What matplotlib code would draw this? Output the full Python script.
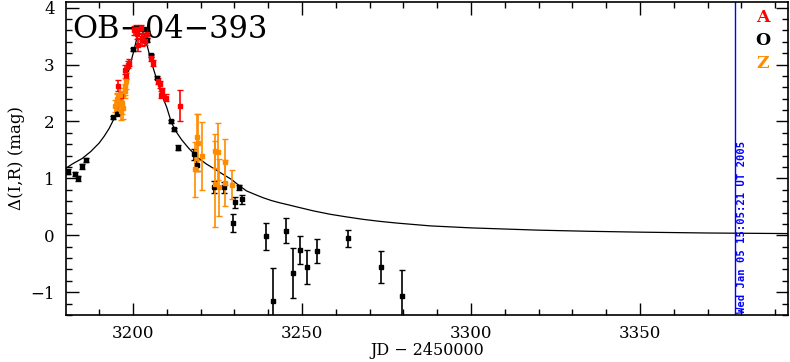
import matplotlib
matplotlib.use('Agg')
import matplotlib.pyplot as plt
from matplotlib.ticker import MultipleLocator

# A (red)
a_jd = [3195.6, 3196.4, 3197.6, 3198.1, 3198.6, 3198.9, 3200.4, 3200.8, 3201.1, 3201.6,
        3202.4, 3202.6, 3202.8, 3203.6, 3204.1, 3205.5, 3206.0, 3207.5, 3208.0, 3208.2,
        3208.5, 3209.8, 3213.9]
a_mag = [2.63, 2.44, 2.91, 2.80, 3.00, 3.03, 3.60, 3.63, 3.53, 3.35,
         3.64, 3.44, 3.47, 3.41, 3.53, 3.12, 3.03, 2.71, 2.65, 2.47,
         2.53, 2.42, 2.28]
a_err = [0.10, 0.08, 0.08, 0.06, 0.06, 0.06, 0.08, 0.06, 0.08, 0.12,
         0.05, 0.12, 0.06, 0.06, 0.06, 0.05, 0.05, 0.06, 0.06, 0.06,
         0.06, 0.06, 0.27]

# O (black)
o_jd = [3180.7, 3182.8, 3183.8, 3185.0, 3186.1, 3194.2, 3195.2, 3200.0, 3201.0, 3202.1,
        3203.2, 3204.1, 3205.5, 3207.0, 3211.2, 3212.2, 3213.2, 3218.1, 3219.1, 3224.0,
        3227.0, 3229.5, 3230.2, 3231.4, 3232.3, 3239.4, 3241.5, 3245.4, 3247.4, 3249.4,
        3251.5, 3254.5, 3263.5, 3273.5, 3279.5]
o_mag = [1.12, 1.08, 1.00, 1.21, 1.32, 2.07, 2.14, 3.27, 3.64, 3.64,
         3.63, 3.43, 3.16, 2.77, 2.00, 1.86, 1.54, 1.42, 1.23, 0.85,
         0.84, 0.22, 0.58, 0.84, 0.63, -0.02, -1.15, 0.08, -0.67, -0.26,
         -0.56, -0.28, -0.05, -0.55, -1.07]
o_err = [0.04, 0.03, 0.04, 0.04, 0.04, 0.03, 0.03, 0.03, 0.02, 0.02,
         0.02, 0.03, 0.03, 0.03, 0.03, 0.03, 0.05, 0.10, 0.10, 0.10,
         0.10, 0.16, 0.10, 0.05, 0.08, 0.23, 0.58, 0.22, 0.44, 0.24,
         0.30, 0.21, 0.15, 0.28, 0.46]

# Z (orange)
z_jd = [3194.7, 3195.2, 3195.4, 3195.9, 3196.2, 3196.5, 3196.7, 3197.1, 3197.6, 3197.8,
        3198.1, 3218.3, 3219.0, 3219.3, 3220.3, 3224.3, 3224.3, 3225.2, 3225.4, 3227.2,
        3227.2, 3229.2]
z_mag = [2.27, 2.39, 2.35, 2.30, 2.47, 2.18, 2.33, 2.24, 2.53, 2.62,
         2.72, 1.16, 1.73, 1.63, 1.39, 1.48, 0.90, 1.47, 0.84, 1.29,
         0.92, 0.89]
z_err = [0.10, 0.10, 0.15, 0.15, 0.12, 0.15, 0.20, 0.20, 0.12, 0.15,
         0.15, 0.48, 0.40, 0.50, 0.60, 0.30, 0.75, 0.50, 0.50, 0.40,
         0.40, 0.26]

# model curve
model_jd = [3180, 3182, 3185, 3187.5, 3190, 3191.5, 3193, 3195, 3196, 3197,
            3198, 3199, 3200, 3201, 3202, 3202.4, 3203, 3203.5, 3204.2, 3205,
            3206, 3207, 3208, 3209, 3210, 3211.4, 3212.8, 3214.4, 3216.5, 3219.3,
            3221.8, 3224.3, 3226.7, 3229.2, 3231.3, 3233.6, 3236, 3238.5, 3241,
            3243.5, 3246, 3248.4, 3253.3, 3258.3, 3263, 3268.1, 3273, 3278,
            3288, 3300, 3310, 3320, 3335, 3350, 3370, 3394]
model_mag = [1.17, 1.25, 1.35, 1.47, 1.62, 1.74, 1.88, 2.12, 2.28, 2.48,
             2.70, 2.95, 3.18, 3.42, 3.60, 3.64, 3.56, 3.48, 3.34, 3.15,
             2.94, 2.75, 2.56, 2.40, 2.25, 1.98, 1.82, 1.68, 1.53, 1.36,
             1.25, 1.16, 1.07, 0.98, 0.88, 0.78, 0.72, 0.66, 0.61,
             0.57, 0.535, 0.50, 0.43, 0.37, 0.325, 0.28, 0.245, 0.215,
             0.165, 0.13, 0.11, 0.09, 0.07, 0.055, 0.04, 0.03]

now_jd = 3378
stamp = 'Wed Jan 05 15:05:21 UT 2005'

serif = 'DejaVu Serif'
fig = plt.figure(figsize=(7.9, 3.62), dpi=100)
ax = fig.add_axes([0.0835, 0.13, 0.914, 0.8645])

ax.plot(model_jd, model_mag, color='black', lw=0.9, zorder=2)

for jd, mag, err, col in [(o_jd, o_mag, o_err, 'black'),
                          (a_jd, a_mag, a_err, '#ff0000'),
                          (z_jd, z_mag, z_err, '#ff8c00')]:
    ax.errorbar(jd, mag, yerr=err, fmt='s', color=col, ms=2.8, lw=1.2,
                capsize=2, capthick=1.0, zorder=3)

ax.axvline(now_jd, color='#0000ff', lw=1.0)
ax.text(now_jd + 0.6, -1.37, stamp, rotation=90, color='#0000ff',
        fontsize=7.6, family='DejaVu Sans Mono', fontweight='bold',
        ha='left', va='bottom')

ax.text(0.009, 0.885, 'OB\u221204\u2212393', transform=ax.transAxes,
        fontsize=22, family=serif, va='baseline', ha='left')

for i, (lab, col) in enumerate([('A', '#ff0000'), ('O', 'black'), ('Z', '#ff8c00')]):
    ax.text(0.965, 0.95 - i * 0.073, lab, transform=ax.transAxes, color=col,
            fontsize=12.5, family=serif, fontweight='bold', ha='center', va='center')

ax.set_xlim(3180.2, 3393.8)
ax.set_ylim(-1.4, 4.1)
ax.xaxis.set_major_locator(MultipleLocator(50))
ax.xaxis.set_minor_locator(MultipleLocator(10))
ax.yaxis.set_major_locator(MultipleLocator(1))
ax.yaxis.set_minor_locator(MultipleLocator(0.2))
ax.tick_params(which='both', direction='in', top=True, right=True, width=1.0)
ax.tick_params(which='major', length=9, labelsize=12)
ax.tick_params(axis='x', which='major', pad=7)
ax.tick_params(axis='y', which='major', pad=8)
ax.tick_params(which='minor', length=4.5)
ax.set_yticks([-1, 0, 1, 2, 3, 4])
ax.set_yticklabels(['\u22121', '0', '1', '2', '3', '4'])
for lab in ax.get_xticklabels() + ax.get_yticklabels():
    lab.set_family(serif)
for s in ax.spines.values():
    s.set_linewidth(1.2)

ax.set_xlabel('JD \u2212 2450000', family=serif, fontsize=11.5, labelpad=0)
ax.set_ylabel('\u0394(I,R) (mag)', family=serif, fontsize=12, labelpad=4)

fig.savefig('out.png', dpi=100)
